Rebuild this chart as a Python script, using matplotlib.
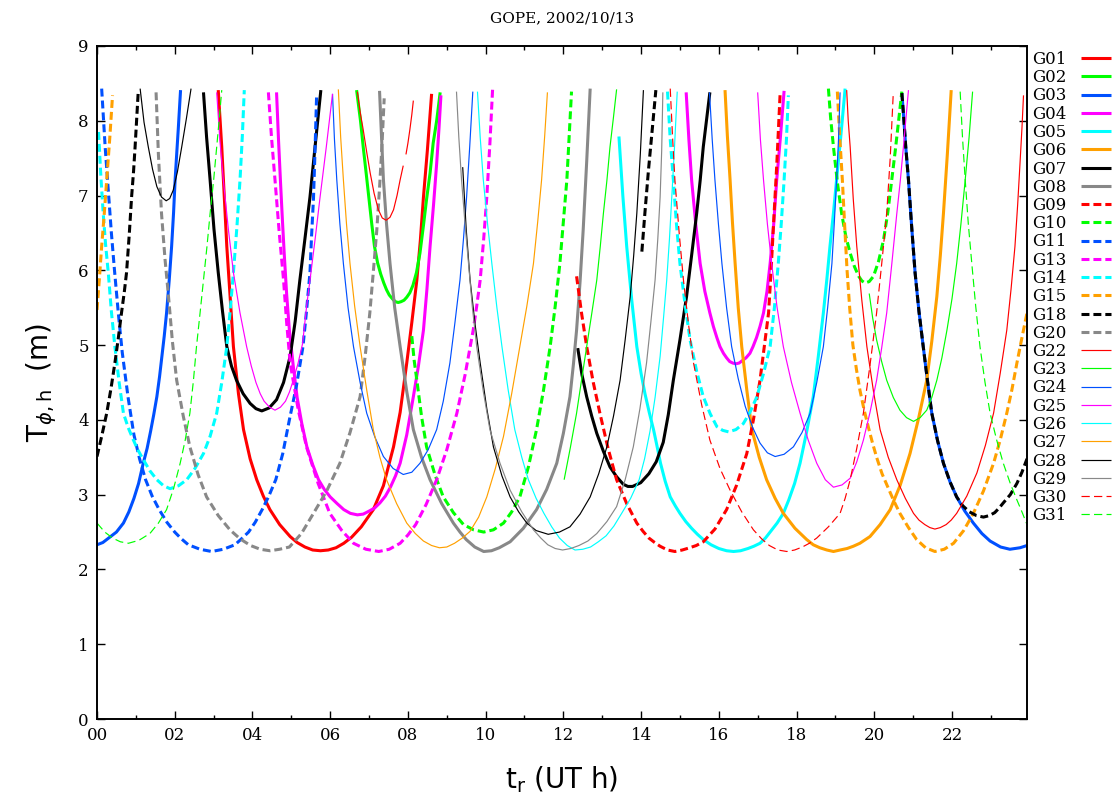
import numpy as np
import matplotlib
matplotlib.use('Agg')
import matplotlib.pyplot as plt
from matplotlib.ticker import FixedLocator, MultipleLocator

nan = np.nan

# ---------------- data (time in UT hours, T in metres); nan separates passes ----------------
sats = ['G01', 'G02', 'G03', 'G04', 'G05', 'G06', 'G07', 'G08',
        'G09', 'G10', 'G11', 'G13', 'G14', 'G15', 'G18', 'G20',
        'G22', 'G23', 'G24', 'G25', 'G26', 'G27', 'G28', 'G29', 'G30', 'G31']

G01_t = [3.12, 3.21, 3.34, 3.51, 3.64, 3.77, 3.94, 4.11, 4.28, 4.45, 4.70, 4.97, 5.15, 5.35, 5.55, 5.75, 5.95, 6.15,
         6.35, 6.55, 6.80, 7.11, 7.37, 7.63, 7.80, 7.97, 8.10, 8.23, 8.32, 8.40, 8.50, 8.61]
G01_v = [8.41, 7.65, 6.32, 4.98, 4.35, 3.87, 3.48, 3.20, 2.98, 2.80, 2.60, 2.44, 2.36, 2.30, 2.26, 2.25, 2.26, 2.29,
         2.35, 2.43, 2.57, 2.80, 3.12, 3.64, 4.10, 4.76, 5.30, 5.87, 6.40, 6.98, 7.60, 8.36]

G02_t = [6.68, 6.78, 6.85, 6.93, 7.00, 7.07, 7.14, 7.22, 7.30, 7.38, 7.45, 7.52, 7.60, 7.68, 7.75, 7.82, 7.90, 7.97,
         8.05, 8.13, 8.22, 8.31, 8.40, 8.48, 8.57, 8.65, 8.74, 8.83]
G02_v = [8.41, 8.00, 7.65, 7.28, 6.95, 6.62, 6.32, 6.10, 5.95, 5.83, 5.74, 5.67, 5.62, 5.58, 5.57, 5.58, 5.60, 5.64,
         5.70, 5.80, 5.97, 6.23, 6.60, 6.95, 7.30, 7.70, 8.00, 8.38]

G03_t = [0.00, 0.15, 0.30, 0.50, 0.68, 0.82, 0.95, 1.07, 1.19, 1.29, 1.38, 1.46, 1.54, 1.61, 1.67, 1.73, 1.79, 1.86,
         1.92, 1.97, 2.01, 2.05, 2.09, 2.15, nan,
         20.71, 20.75, 20.81, 20.88, 20.96, 21.05, 21.15, 21.26, 21.37, 21.48, 21.63, 21.78, 21.95, 22.12, 22.33,
         22.55, 22.77, 22.98, 23.25, 23.49, 23.75, 23.93]
G03_v = [2.33, 2.36, 2.42, 2.50, 2.62, 2.77, 2.95, 3.15, 3.42, 3.62, 3.85, 4.07, 4.31, 4.58, 4.85, 5.12, 5.43, 5.88,
         6.32, 6.77, 7.21, 7.55, 7.88, 8.41, nan,
         8.37, 8.10, 7.65, 7.21, 6.60, 5.97, 5.45, 4.98, 4.52, 4.09, 3.72, 3.42, 3.17, 2.97, 2.78,
         2.62, 2.48, 2.38, 2.30, 2.27, 2.29, 2.32]

G04_t = [4.62, 4.67, 4.72, 4.77, 4.82, 4.88, 4.95, 5.05, 5.15, 5.27, 5.40, 5.55, 5.70, 5.85, 6.00, 6.18, 6.35, 6.52,
         6.70, 6.85, 7.00, 7.14, 7.28, 7.42, 7.55, 7.68, 7.80, 7.97, 8.14, 8.27, 8.40, 8.49, 8.57, 8.66, 8.74, 8.80,
         8.85, nan,
         15.16, 15.23, 15.30, 15.41, 15.52, 15.64, 15.77, 15.86, 15.95, 16.03, 16.12, 16.20, 16.28, 16.36, 16.44,
         16.52, 16.60, 16.70, 16.80, 16.88, 16.97, 17.06, 17.15, 17.24, 17.32, 17.41, 17.49, 17.58, 17.68]
G04_v = [8.38, 7.75, 7.20, 6.68, 6.20, 5.68, 5.20, 4.72, 4.30, 3.95, 3.64, 3.40, 3.20, 3.07, 2.97, 2.88, 2.80, 2.75,
         2.73, 2.74, 2.78, 2.82, 2.89, 2.98, 3.10, 3.25, 3.42, 3.80, 4.31, 4.72, 5.20, 5.75, 6.32, 6.88, 7.43, 7.90,
         8.34, nan,
         8.38, 7.75, 7.21, 6.60, 6.09, 5.72, 5.43, 5.25, 5.10, 4.98, 4.89, 4.83, 4.78, 4.76, 4.75,
         4.76, 4.79, 4.83, 4.89, 4.98, 5.10, 5.25, 5.43, 5.72, 6.09, 6.60, 7.21, 7.75, 8.40]

G05_t = [13.43, 13.53, 13.63, 13.76, 13.89, 14.00, 14.10, 14.21, 14.32, 14.41, 14.50, 14.62, 14.75, 14.88, 15.00,
         15.15, 15.30, 15.45, 15.60, 15.80, 16.00, 16.20, 16.38, 16.56, 16.75, 16.90, 17.06, 17.20, 17.35, 17.50,
         17.66, 17.80, 17.95, 18.09, 18.26, 18.43, 18.56, 18.69, 18.78, 18.86, 18.95, 19.03, 19.14, 19.25]
G05_v = [7.79, 7.00, 6.32, 5.60, 4.98, 4.62, 4.35, 4.10, 3.87, 3.65, 3.42, 3.18, 2.97, 2.85, 2.75,
         2.64, 2.55, 2.47, 2.40, 2.33, 2.28, 2.25, 2.24, 2.25, 2.28, 2.31, 2.35, 2.42, 2.52, 2.62,
         2.75, 2.93, 3.15, 3.42, 3.84, 4.31, 4.85, 5.43, 5.88, 6.32, 6.77, 7.21, 7.80, 8.43]

G06_t = [16.16, 16.22, 16.29, 16.35, 16.42, 16.50, 16.59, 16.72, 16.85, 17.04, 17.23, 17.45, 17.66, 17.96, 18.26,
         18.43, 18.60, 18.78, 18.95, 19.12, 19.30, 19.46, 19.63, 19.89, 20.15, 20.41, 20.67, 20.92, 21.14, 21.35,
         21.48, 21.61, 21.70, 21.78, 21.88, 21.98]
G06_v = [8.41, 7.80, 7.21, 6.65, 6.09, 5.50, 4.98, 4.40, 3.87, 3.50, 3.20, 2.95, 2.75, 2.55, 2.40,
         2.33, 2.29, 2.26, 2.24, 2.26, 2.28, 2.31, 2.35, 2.44, 2.60, 2.80, 3.13, 3.55, 4.02, 4.53,
         5.05, 5.65, 6.20, 6.76, 7.55, 8.41]

G07_t = [2.74, 2.82, 2.91, 3.01, 3.12, 3.23, 3.34, 3.46, 3.59, 3.76, 3.94, 4.09, 4.24, 4.43, 4.62, 4.80, 4.97, 5.10,
         5.22, 5.35, 5.48, 5.62, 5.76, nan,
         12.37, 12.48, 12.60, 12.73, 12.86, 13.03, 13.20, 13.37, 13.54, 13.66, 13.78, 13.99, 14.20, 14.39, 14.57,
         14.70, 14.83, 15.00, 15.17, 15.30, 15.43, 15.52, 15.60, 15.77]
G07_v = [8.38, 7.78, 7.21, 6.55, 5.97, 5.45, 4.98, 4.72, 4.53, 4.35, 4.22, 4.15, 4.12, 4.16, 4.27, 4.50, 4.85, 5.32,
         5.87, 6.42, 6.98, 7.70, 8.41, nan,
         4.96, 4.60, 4.31, 4.05, 3.82, 3.58, 3.37, 3.24, 3.14, 3.11, 3.11, 3.16, 3.28, 3.44, 3.70,
         4.07, 4.53, 5.07, 5.65, 6.20, 6.76, 7.20, 7.65, 8.38]

G08_t = [7.27, 7.32, 7.37, 7.45, 7.54, 7.66, 7.80, 7.97, 8.14, 8.35, 8.57, 8.87, 9.17, 9.34, 9.50, 9.72, 9.95, 10.15,
         10.35, 10.63, 10.97, 11.31, 11.57, 11.83, 12.00, 12.17, 12.26, 12.34, 12.43, 12.51, 12.60, 12.69]
G08_v = [8.40, 7.80, 7.21, 6.62, 6.09, 5.50, 4.98, 4.38, 3.87, 3.50, 3.20, 2.88, 2.62, 2.50, 2.40, 2.30, 2.24, 2.25,
         2.29, 2.37, 2.55, 2.80, 3.07, 3.42, 3.82, 4.31, 4.75, 5.20, 5.85, 6.54, 7.45, 8.43]

G09_t = [12.34, 12.47, 12.60, 12.77, 12.94, 13.15, 13.37, 13.63, 13.89, 14.05, 14.20, 14.35, 14.49, 14.68, 14.87,
         15.06, 15.25, 15.42, 15.60, 15.90, 16.20, 16.46, 16.72, 16.89, 17.06, 17.17, 17.28, 17.34, 17.40, 17.49, 17.58]
G09_v = [5.92, 5.42, 4.98, 4.50, 4.09, 3.62, 3.20, 2.88, 2.62, 2.51, 2.42, 2.36, 2.31, 2.26, 2.24,
         2.26, 2.29, 2.32, 2.37, 2.54, 2.80, 3.13, 3.55, 4.00, 4.53, 4.98, 5.43, 5.95, 6.54, 7.40, 8.39]

G10_t = [8.10, 8.16, 8.23, 8.35, 8.48, 8.70, 8.91, 9.17, 9.43, 9.69, 9.95, 10.20, 10.46, 10.67, 10.88, 11.10, 11.31,
         11.49, 11.66, 11.79, 11.91, 12.00, 12.09, 12.15, 12.21, nan,
         18.82, 18.88, 18.95, 19.05, 19.16, 19.27, 19.38, 19.49, 19.60, 19.68, 19.76, 19.87, 19.98, 20.11, 20.24,
         20.35, 20.45, 20.54, 20.62, 20.71]
G10_v = [5.12, 4.80, 4.53, 4.05, 3.64, 3.26, 2.97, 2.76, 2.60, 2.53, 2.50, 2.53, 2.62, 2.77, 2.97, 3.37, 3.87,
         4.40, 4.98, 5.52, 6.09, 6.65, 7.21, 7.80, 8.39, nan,
         8.43, 8.02, 7.65, 7.18, 6.76, 6.45, 6.23, 6.05, 5.92, 5.86, 5.83, 5.85, 5.92, 6.12, 6.41,
         6.78, 7.21, 7.60, 7.97, 8.39]

G11_t = [0.12, 0.21, 0.30, 0.37, 0.45, 0.55, 0.65, 0.80, 0.95, 1.10, 1.25, 1.42, 1.60, 1.80, 2.00, 2.17, 2.35, 2.65,
         2.95, 3.25, 3.55, 3.72, 3.90, 4.07, 4.25, 4.42, 4.60, 4.78, 4.95, 5.13, 5.30, 5.39, 5.48, 5.52, 5.57, 5.61, 5.65]
G11_v = [8.43, 7.65, 7.00, 6.50, 6.00, 5.42, 4.90, 4.30, 3.80, 3.47, 3.20, 2.98, 2.80, 2.63, 2.50, 2.41, 2.33, 2.27,
         2.24, 2.27, 2.33, 2.41, 2.50, 2.63, 2.80, 2.98, 3.20, 3.55, 4.00, 4.45, 4.98, 5.45, 5.97, 6.45, 6.96, 7.60, 8.32]

G13_t = [4.41, 4.49, 4.58, 4.69, 4.80, 4.88, 4.97, 5.18, 5.39, 5.69, 5.99, 6.30, 6.60, 6.92, 7.25, 7.52, 7.80, 8.00,
         8.20, 8.47, 8.74, 9.00, 9.26, 9.47, 9.68, 9.77, 9.86, 9.95, 10.03, 10.11, 10.18]
G13_v = [8.38, 7.78, 7.21, 6.50, 5.87, 5.30, 4.76, 4.13, 3.64, 3.15, 2.75, 2.52, 2.35, 2.27, 2.24, 2.27, 2.35, 2.46,
         2.60, 2.87, 3.20, 3.60, 4.09, 4.60, 5.20, 5.52, 5.87, 6.42, 6.98, 7.70, 8.43]

G14_t = [0.04, 0.10, 0.16, 0.22, 0.29, 0.37, 0.46, 0.57, 0.68, 0.80, 0.92, 1.05, 1.19, 1.36, 1.54, 1.71, 1.88, 2.10,
         2.31, 2.52, 2.74, 2.91, 3.08, 3.21, 3.34, 3.43, 3.51, 3.60, 3.68, 3.74, 3.79, nan,
         14.68, 14.75, 14.83, 14.91, 15.00, 15.13, 15.26, 15.43, 15.60, 15.78, 15.95, 16.10, 16.25, 16.44, 16.63,
         16.80, 16.98, 17.15, 17.32, 17.43, 17.53, 17.61, 17.68, 17.74, 17.79]
G14_v = [7.85, 7.25, 6.76, 6.35, 5.97, 5.45, 4.98, 4.50, 4.09, 3.90, 3.75, 3.60, 3.47, 3.32, 3.20, 3.12, 3.08, 3.12,
         3.20, 3.35, 3.55, 3.78, 4.09, 4.50, 4.98, 5.48, 5.97, 6.58, 7.21, 7.80, 8.41, nan,
         8.39, 7.75, 7.21, 6.62, 6.09, 5.55, 5.07, 4.65, 4.31, 4.08, 3.91, 3.86, 3.84, 3.87, 3.95,
         4.10, 4.31, 4.62, 4.98, 5.50, 6.09, 6.65, 7.21, 7.75, 8.34]

G15_t = [0.00, 0.06, 0.12, 0.19, 0.25, 0.33, 0.40, nan,
         19.05, 19.11, 19.18, 19.24, 19.30, 19.37, 19.45, 19.54, 19.63, 19.74, 19.85, 19.95, 20.06, 20.20, 20.35,
         20.50, 20.66, 20.88, 21.09, 21.32, 21.56, 21.80, 22.04, 22.30, 22.55, 22.81, 23.07, 23.24, 23.41, 23.54,
         23.67, 23.80, 23.93]
G15_v = [5.47, 5.88, 6.32, 6.78, 7.21, 7.78, 8.34, nan,
         8.39, 7.80, 7.20, 6.58, 6.00, 5.48, 5.00, 4.68, 4.40, 4.13, 3.90, 3.70, 3.50, 3.28, 3.10,
         2.92, 2.75, 2.56, 2.40, 2.29, 2.24, 2.27, 2.35, 2.52, 2.75, 3.05, 3.42, 3.73, 4.09, 4.40,
         4.76, 5.10, 5.43]

G18_t = [0.00, 0.12, 0.25, 0.36, 0.46, 0.55, 0.63, 0.70, 0.76, 0.83, 0.89, 0.94, 0.98, 1.06, nan,
         14.02, 14.10, 14.19, 14.29, 14.38, nan,
         20.71, 20.75, 20.81, 20.88, 20.96, 21.05, 21.15, 21.26, 21.37, 21.48, 21.63, 21.78, 21.95, 22.12, 22.28,
         22.45, 22.63, 22.81, 22.96, 23.10, 23.21, 23.32, 23.50, 23.67, 23.80, 23.93]
G18_v = [3.51, 3.78, 4.09, 4.42, 4.76, 5.10, 5.43, 5.70, 5.97, 6.48, 6.98, 7.32, 7.65, 8.38, nan,
         6.25, 6.78, 7.34, 7.90, 8.41, nan,
         8.37, 8.10, 7.65, 7.21, 6.60, 5.97, 5.45, 4.98, 4.52, 4.09, 3.72, 3.42, 3.17, 2.97, 2.85,
         2.77, 2.72, 2.70, 2.72, 2.76, 2.82, 2.89, 3.00, 3.15, 3.30, 3.48]

G20_t = [1.52, 1.58, 1.66, 1.75, 1.84, 1.94, 2.05, 2.22, 2.39, 2.60, 2.82, 3.12, 3.42, 3.68, 3.95, 4.20, 4.45, 4.70,
         4.95, 5.26, 5.57, 5.91, 6.25, 6.51, 6.77, 6.90, 7.02, 7.11, 7.20, 7.27, 7.33, 7.39]
G20_v = [8.38, 7.55, 6.76, 6.15, 5.65, 5.05, 4.53, 4.05, 3.64, 3.27, 2.97, 2.72, 2.53, 2.41, 2.32, 2.27, 2.25, 2.27,
         2.30, 2.48, 2.75, 3.05, 3.42, 3.83, 4.31, 4.85, 5.43, 5.98, 6.54, 7.10, 7.65, 8.30]

G22_t = [6.70, 6.77, 6.85, 6.94, 7.03, 7.13, 7.24, 7.34, 7.44, 7.54, 7.63, 7.72, 7.80, 7.88, nan,
         7.95, 8.00, 8.05, 8.10, 8.14, nan,
         19.29, 19.33, 19.38, 19.46, 19.55, 19.68, 19.81, 19.98, 20.15, 20.36, 20.58, 20.80, 21.01, 21.15, 21.30,
         21.43, 21.56, 21.70, 21.85, 21.98, 22.12, 22.38, 22.64, 22.86, 23.07, 23.24, 23.41, 23.52, 23.62, 23.69,
         23.75, 23.80, 23.84]
G22_v = [8.39, 8.12, 7.88, 7.58, 7.30, 7.03, 6.81, 6.70, 6.67, 6.71, 6.81, 7.00, 7.21, 7.40, nan,
         7.55, 7.70, 7.88, 8.08, 8.27, nan,
         8.41, 8.00, 7.65, 6.95, 6.32, 5.60, 4.98, 4.38, 3.87, 3.50, 3.20, 2.95, 2.75, 2.66, 2.60,
         2.56, 2.54, 2.56, 2.60, 2.66, 2.75, 2.98, 3.29, 3.66, 4.09, 4.62, 5.20, 5.75, 6.32, 6.88,
         7.43, 7.90, 8.34]

G23_t = [12.02, 12.18, 12.34, 12.47, 12.60, 12.73, 12.86, 12.95, 13.03, 13.12, 13.20, 13.29, 13.37, nan,
         19.87, 19.96, 20.06, 20.19, 20.32, 20.49, 20.66, 20.83, 21.01, 21.18, 21.35, 21.48, 21.61, 21.74, 21.87,
         22.00, 22.12, 22.23, 22.34, 22.44, 22.53]
G23_v = [3.20, 3.63, 4.09, 4.54, 4.98, 5.42, 5.87, 6.32, 6.76, 7.20, 7.65, 8.05, 8.42, nan,
         5.69, 5.36, 5.07, 4.78, 4.53, 4.30, 4.13, 4.03, 3.98, 4.03, 4.13, 4.30, 4.53, 4.83, 5.20,
         5.62, 6.09, 6.62, 7.21, 7.78, 8.39]

G24_t = [6.06, 6.11, 6.17, 6.25, 6.34, 6.46, 6.60, 6.77, 6.94, 7.15, 7.37, 7.62, 7.88, 8.10, 8.31, 8.52, 8.74, 8.91,
         9.08, 9.21, 9.34, 9.43, 9.51, 9.59, 9.67, nan,
         15.76, 15.83, 15.90, 15.99, 16.08, 16.20, 16.33, 16.50, 16.68, 16.87, 17.06, 17.25, 17.45, 17.68, 17.92,
         18.14, 18.35, 18.52, 18.69, 18.80, 18.91, 18.97, 19.03, 19.08, 19.12]
G24_v = [8.36, 7.75, 7.21, 6.62, 6.09, 5.50, 4.98, 4.50, 4.09, 3.77, 3.51, 3.35, 3.27, 3.30, 3.42, 3.60, 3.87, 4.25,
         4.76, 5.30, 5.87, 6.42, 6.98, 7.65, 8.39, nan,
         8.38, 7.75, 7.21, 6.62, 6.09, 5.50, 4.98, 4.55, 4.18, 3.90, 3.69, 3.56, 3.51, 3.54, 3.64,
         3.83, 4.09, 4.50, 4.98, 5.50, 6.09, 6.62, 7.21, 7.75, 8.38]

G25_t = [3.08, 3.16, 3.25, 3.38, 3.51, 3.68, 3.85, 3.97, 4.09, 4.20, 4.30, 4.44, 4.58, 4.72, 4.85, 4.95, 5.05, 5.17,
         5.29, 5.40, 5.50, 5.62, 5.74, 5.90, 6.06, nan,
         17.00, 17.07, 17.15, 17.25, 17.36, 17.50, 17.66, 17.87, 18.09, 18.30, 18.52, 18.74, 18.95, 19.17, 19.38,
         19.55, 19.72, 19.89, 20.06, 20.19, 20.32, 20.45, 20.58, 20.67, 20.75, 20.88]
G25_v = [8.38, 7.75, 7.21, 6.55, 5.97, 5.43, 4.98, 4.72, 4.50, 4.35, 4.25, 4.17, 4.13, 4.17, 4.25, 4.37, 4.53, 4.75,
         5.02, 5.55, 5.95, 6.45, 6.98, 7.65, 8.36, nan,
         8.38, 7.75, 7.21, 6.62, 6.09, 5.50, 4.98, 4.50, 4.09, 3.73, 3.42, 3.20, 3.10, 3.13, 3.22,
         3.44, 3.73, 4.10, 4.53, 4.96, 5.43, 6.08, 6.76, 7.20, 7.65, 8.41]

G26_t = [9.79, 9.86, 9.94, 10.05, 10.16, 10.29, 10.42, 10.58, 10.75, 10.93, 11.10, 11.30, 11.50, 11.70, 11.90, 12.10,
         12.30, 12.50, 12.70, 12.90, 13.10, 13.30, 13.50, 13.73, 13.95, 14.09, 14.23, 14.36, 14.49, 14.58, 14.66,
         14.73, 14.79, 14.86, 14.93]
G26_v = [8.39, 7.78, 7.21, 6.62, 6.09, 5.50, 4.98, 4.40, 3.87, 3.50, 3.20, 2.95, 2.75, 2.57, 2.42, 2.32,
         2.26, 2.27, 2.30, 2.37, 2.45, 2.58, 2.75, 2.95, 3.20, 3.48, 3.85, 4.30, 4.85, 5.38, 5.87,
         6.42, 6.98, 7.65, 8.39]

G27_t = [6.21, 6.27, 6.34, 6.42, 6.51, 6.63, 6.77, 6.94, 7.11, 7.28, 7.45, 7.71, 7.97, 8.19, 8.40, 8.61, 8.81, 9.00,
         9.20, 9.40, 9.60, 9.82, 10.03, 10.25, 10.46, 10.67, 10.88, 11.06, 11.23, 11.34, 11.44, 11.52, 11.59]
G27_v = [8.42, 7.78, 7.21, 6.62, 6.09, 5.52, 4.98, 4.40, 3.87, 3.50, 3.20, 2.88, 2.62, 2.48, 2.38, 2.32, 2.29, 2.30,
         2.35, 2.42, 2.51, 2.70, 2.97, 3.35, 3.78, 4.35, 4.98, 5.52, 6.09, 6.65, 7.21, 7.80, 8.38]

G28_t = [1.11, 1.21, 1.32, 1.43, 1.54, 1.66, 1.78, 1.87, 1.96, 2.07, 2.18, 2.30, 2.42, nan,
         9.41, 9.50, 9.60, 9.73, 9.86, 10.03, 10.20, 10.42, 10.63, 10.85, 11.06, 11.30, 11.61, 11.90, 12.17, 12.43,
         12.69, 12.91, 13.12, 13.29, 13.46, 13.59, 13.72, 13.81, 13.89, 13.98, 14.06]
G28_v = [8.43, 7.98, 7.65, 7.35, 7.12, 6.98, 6.93, 6.96, 7.07, 7.32, 7.65, 8.03, 8.43, nan,
         7.38, 6.55, 5.87, 5.27, 4.76, 4.15, 3.64, 3.25, 2.97, 2.77, 2.62, 2.52, 2.47, 2.50, 2.57, 2.74,
         2.97, 3.28, 3.64, 4.05, 4.53, 5.07, 5.65, 6.20, 6.76, 7.55, 8.41]

G29_t = [9.25, 9.31, 9.38, 9.47, 9.56, 9.66, 9.77, 9.94, 10.11, 10.37, 10.63, 10.93, 11.23, 11.42, 11.60, 11.79, 11.98,
         12.19, 12.40, 12.63, 12.86, 13.12, 13.37, 13.59, 13.80, 13.97, 14.14, 14.25, 14.36, 14.43, 14.49, 14.53, 14.56]
G29_v = [8.39, 7.78, 7.21, 6.62, 6.09, 5.50, 4.98, 4.38, 3.87, 3.42, 3.06, 2.77, 2.53, 2.42, 2.33, 2.28, 2.26,
         2.28, 2.32, 2.38, 2.48, 2.64, 2.84, 3.20, 3.64, 4.15, 4.76, 5.30, 5.87, 6.42, 6.98, 7.60, 8.38]

G30_t = [14.75, 14.81, 14.87, 14.98, 15.09, 15.22, 15.35, 15.56, 15.77, 16.03, 16.29, 16.59, 16.89, 17.10, 17.30,
         17.52, 17.75, 17.95, 18.15, 18.33, 18.52, 18.82, 19.12, 19.25, 19.38, 19.55, 19.72, 19.89, 20.06, 20.19,
         20.32, 20.41, 20.49]
G30_v = [8.43, 7.78, 7.21, 6.50, 5.87, 5.28, 4.76, 4.20, 3.73, 3.35, 3.06, 2.77, 2.53, 2.41, 2.32,
         2.26, 2.24, 2.26, 2.30, 2.35, 2.42, 2.57, 2.75, 2.95, 3.20, 3.62, 4.09, 4.73, 5.43, 6.08,
         6.76, 7.50, 8.38]

G31_t = [0.00, 0.20, 0.40, 0.60, 0.81, 1.08, 1.36, 1.58, 1.79, 1.97, 2.14, 2.27, 2.39, 2.48, 2.56, 2.65, 2.74, 2.83,
         2.91, 3.00, 3.08, 3.15, 3.21, nan,
         22.21, 22.27, 22.34, 22.42, 22.51, 22.61, 22.72, 22.85, 22.98, 23.15, 23.32, 23.50, 23.67, 23.80, 23.93]
G31_v = [2.62, 2.50, 2.42, 2.37, 2.35, 2.39, 2.48, 2.62, 2.80, 3.08, 3.42, 3.73, 4.09, 4.52, 4.98, 5.42, 5.87, 6.32,
         6.76, 7.20, 7.65, 8.05, 8.41, nan,
         8.39, 7.78, 7.21, 6.62, 6.09, 5.52, 4.98, 4.50, 4.09, 3.73, 3.42, 3.15, 2.93, 2.77, 2.60]

xtick_values = [0, 2, 4, 6, 8, 10, 12, 14, 16, 18, 20, 22]
xtick_labels = ['00', '02', '04', '06', '08', '10', '12', '14', '16', '18', '20', '22']
ytick_values = [0, 1, 2, 3, 4, 5, 6, 7, 8, 9]

title = 'GOPE, 2002/10/13'

# ---------------- styles ----------------
palette = ['#ff0000', '#00ff00', '#0050ff', '#ff00ff', '#00ffff', '#ffa000', '#000000', '#888888']
series = {s: (globals()[s + '_t'], globals()[s + '_v']) for s in sats}

fig = plt.figure(figsize=(11.15, 7.98), dpi=100)
ax = fig.add_axes([97 / 1115, 1 - 719 / 798, (1027 - 97) / 1115, (719 - 46) / 798])

for i, s in enumerate(sats):
    t, v = series[s]
    if i < 8:
        kw = dict(color=palette[i], lw=2.2)
    elif i < 16:
        kw = dict(color=palette[i - 8], lw=2.2, dashes=(2.6, 1.3))
    elif i < 24:
        kw = dict(color=palette[i - 16], lw=0.85)
    else:
        kw = dict(color=palette[i - 24], lw=0.85, dashes=(7, 3.6))
    ax.plot(np.array(t, float), np.array(v, float), label=s, solid_capstyle='butt',
            dash_capstyle='butt', solid_joinstyle='round', **kw)

ax.set_xlim(0, 23.93)
ax.set_ylim(0, 9)
ax.xaxis.set_major_locator(FixedLocator(xtick_values))
ax.set_xticklabels(xtick_labels)
ax.xaxis.set_minor_locator(MultipleLocator(1))
ax.yaxis.set_major_locator(FixedLocator(ytick_values))
ax.set_yticklabels([str(v) for v in ytick_values])
ax.tick_params(which='both', direction='in', top=True, right=True, width=1.0)
ax.tick_params(which='major', length=6, pad=6)
ax.tick_params(which='minor', length=3)
for lab in ax.get_xticklabels() + ax.get_yticklabels():
    lab.set_fontfamily('DejaVu Serif')
    lab.set_fontsize(12)
for sp in ax.spines.values():
    sp.set_linewidth(1.4)

ax.set_xlabel(r'$\mathregular{t_r}$ (UT h)', fontsize=20, family='DejaVu Sans', labelpad=14)
ax.set_ylabel(r'$\mathregular{T}_{\phi\mathregular{,h}}$  (m)', fontsize=20, family='DejaVu Sans', labelpad=14)

fig.text(562 / 1115, 1 - 18 / 798, title, ha='center', va='center', fontsize=11, family='DejaVu Serif')

leg = ax.legend(loc='upper left', bbox_to_anchor=(1.0, 1.0), frameon=False, markerfirst=False,
                prop={'family': 'DejaVu Serif', 'size': 12}, handlelength=1.8, handletextpad=0.9,
                labelspacing=0.075, borderaxespad=0.0, borderpad=0.3)

fig.savefig('out.png', dpi=100)
